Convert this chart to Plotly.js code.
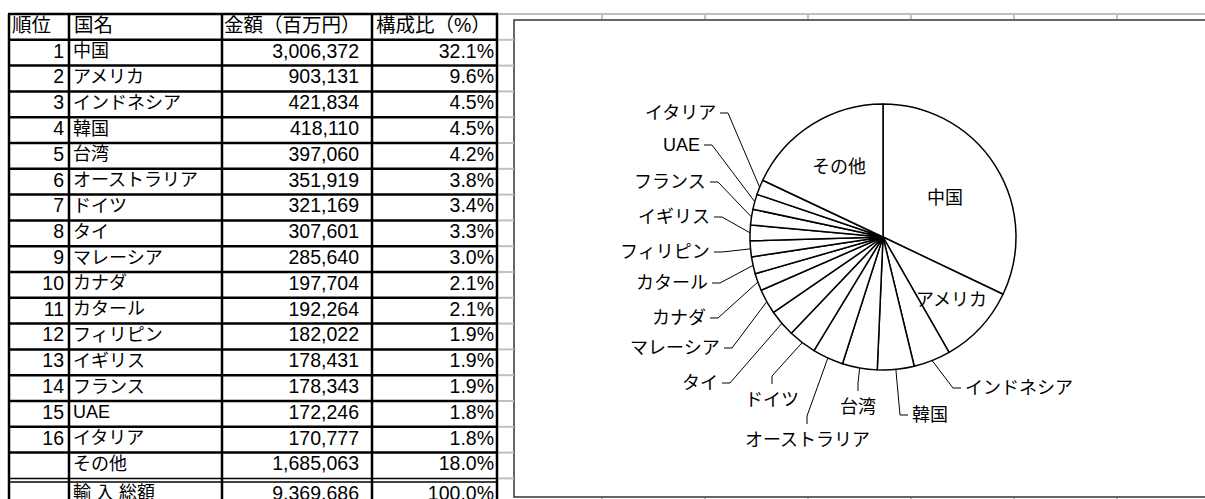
<!DOCTYPE html>
<html>
<head>
<meta charset="utf-8">
<script src="https://cdn.plot.ly/plotly-3.0.1.min.js"></script>
<style>
html,body{margin:0;padding:0;background:#fff;}
#chart{width:1205px;height:499px;}
</style>
</head>
<body>
<div id="chart"></div>
<script>
// ---------------- DATA ----------------
const headers = ['順位', '国名', '金額（百万円）', '構成比（%）'];
const ranks = ['1','2','3','4','5','6','7','8','9','10','11','12','13','14','15','16'];
const countries = ['中国','アメリカ','インドネシア','韓国','台湾','オーストラリア','ドイツ','タイ','マレーシア','カナダ','カタール','フィリピン','イギリス','フランス','UAE','イタリア'];
const amounts = [3006372, 903131, 421834, 418110, 397060, 351919, 321169, 307601, 285640, 197704, 192264, 182022, 178431, 178343, 172246, 170777];
const shares = [32.1, 9.6, 4.5, 4.5, 4.2, 3.8, 3.4, 3.3, 3.0, 2.1, 2.1, 1.9, 1.9, 1.9, 1.8, 1.8];
const otherLabel = 'その他';
const otherAmount = 1685063;
const otherShare = 18.0;
const totalLabel = '輸 入 総額';
const totalAmount = 9369686;
const totalShare = 100.0;

// ---------------- LAYOUT CONSTANTS ----------------
const W = 1205, H = 499;
const colB = [9, 69, 222, 372, 497];          // table column borders (px)
const rowTop = 14, rowPitch = 25.8;           // table rows
const r0 = rowTop + rowPitch / 2;             // px of row index 0
const yRange = [(H - r0) / rowPitch, (0 - r0) / rowPitch];
const totalShift = 0.14;                      // double line pushes last row down
const pie = {cx: 883, cy: 237, R: 133};
const frame = {x0: 514, y0: 20, x1: 1215, y1: 497};
const sheetCols = [602, 705, 808, 911, 1014, 1117];
const fontMix = 'Liberation Sans, Arial, Noto Sans CJK JP, sans-serif';
const fontNum = 'Liberation Sans, Arial, sans-serif';

// pie label placement (px): side = where the leader attaches
const outsideLabels = {
  'インドネシア': {side: 'l', x: 963, y: 388},
  '韓国':        {side: 'l', x: 910, y: 415},
  '台湾':        {side: 't', x: 858, y: 407},
  'オーストラリア': {side: 't', x: 807, y: 440},
  'ドイツ':      {side: 't', x: 772, y: 400},
  'タイ':        {side: 'r', x: 720, y: 383},
  'マレーシア':   {side: 'r', x: 722, y: 348},
  'カナダ':      {side: 'r', x: 708, y: 318},
  'カタール':    {side: 'r', x: 710, y: 283},
  'フィリピン':   {side: 'r', x: 712, y: 252},
  'イギリス':    {side: 'r', x: 712, y: 217},
  'フランス':    {side: 'r', x: 708, y: 182},
  'UAE':         {side: 'r', x: 702, y: 145},
  'イタリア':    {side: 'r', x: 718, y: 113}
};
const insideLabels = {'中国': 0.55, 'アメリカ': 0.70, 'その他': 0.62};

// ---------------- HELPERS ----------------
const fmt = v => v.toLocaleString('en-US');
const pct = v => v.toFixed(1) + '%';
const px2py = y => 1 - y / H;   // px y -> paper y
const px2ry = y => (y - r0) / rowPitch; // px y -> row index

// ---------------- TABLE TRACES ----------------
const nameRows = countries.map((_, i) => i + 1);
const otherRow = countries.length + 1;
const totalRow = countries.length + 2 + totalShift;

const allNames = countries.concat([otherLabel, totalLabel]);
const allAmounts = amounts.concat([otherAmount, totalAmount]).map(fmt);
const allShares = shares.concat([otherShare, totalShare]).map(pct);
const allRows = nameRows.concat([otherRow, totalRow]);

const txt = (x, y, text, pos, family, size) => ({
  type: 'scatter', mode: 'text', x: x, y: y, text: text, textposition: pos,
  textfont: {family: family, size: size, color: '#000'},
  hoverinfo: 'skip', showlegend: false, cliponaxis: true, xaxis: 'x', yaxis: 'y'
});

const traces = [];
traces.push(txt([colB[0] + 3, colB[1] + 5, colB[2] + 2, colB[3] + 4], headers.map(() => 0), headers, 'middle right', fontMix, 19.5));
traces.push(txt(ranks.map(() => colB[1] - 5), nameRows, ranks, 'middle left', fontNum, 19.5));
traces.push(txt(allNames.map(() => colB[1] + 4), allRows, allNames, 'middle right', fontMix, 18));
traces.push(txt(allAmounts.map(() => colB[3] - 13), allRows, allAmounts, 'middle left', fontNum, 19.5));
traces.push(txt(allShares.map(() => colB[4] - 3), allRows, allShares, 'middle left', fontNum, 19.5));

// ---------------- PIE ----------------
const pieLabels = countries.concat([otherLabel]);
const pieValues = amounts.concat([otherAmount]);
traces.push({
  type: 'pie', labels: pieLabels, values: pieValues, sort: false,
  direction: 'clockwise', rotation: 0, textinfo: 'none', hoverinfo: 'skip',
  showlegend: false,
  marker: {colors: pieLabels.map(() => '#ffffff'), line: {color: '#000', width: 1.5}},
  domain: {x: [(pie.cx - pie.R) / W, (pie.cx + pie.R) / W],
           y: [px2py(pie.cy + pie.R), px2py(pie.cy - pie.R)]}
});

// slice mid-angles (deg, clockwise from 12 o'clock)
const sum = pieValues.reduce((a, b) => a + b, 0);
let cum = 0;
const midAngles = pieValues.map(v => { const a = (cum + v / 2) / sum * 360; cum += v; return a; });
const rimPoint = (deg, k) => {
  const t = deg * Math.PI / 180;
  return [pie.cx + k * pie.R * Math.sin(t), pie.cy - k * pie.R * Math.cos(t)];
};

// ---------------- SHAPES ----------------
const shapes = [];
const gray = '#c0c0c0';
// chart frame
shapes.push({type: 'rect', xref: 'x', yref: 'paper', x0: frame.x0, x1: frame.x1,
  y0: px2py(frame.y1), y1: px2py(frame.y0), line: {color: '#333', width: 1.5}, fillcolor: '#fff', layer: 'below'});
// sheet gridlines
shapes.push({type: 'line', xref: 'x', yref: 'paper', x0: colB[4], x1: W + 5,
  y0: px2py(rowTop), y1: px2py(rowTop), line: {color: gray, width: 2}, layer: 'below'});
sheetCols.forEach(x => {
  shapes.push({type: 'line', xref: 'x', yref: 'paper', x0: x, x1: x, y0: px2py(rowTop), y1: px2py(frame.y0 - 1), line: {color: gray, width: 2}, layer: 'below'});
  shapes.push({type: 'line', xref: 'x', yref: 'paper', x0: x, x1: x, y0: px2py(frame.y1 + 1), y1: 0, line: {color: gray, width: 2}, layer: 'below'});
});
for (let b = -0.5; b < yRange[0]; b += 1) {
  shapes.push({type: 'line', xref: 'x', yref: 'y', x0: colB[4], x1: frame.x0, y0: b, y1: b, line: {color: gray, width: 2}, layer: 'below'});
}
// table lines
for (let b = -0.5; b <= countries.length + 1.5; b += 1) {
  if (b === countries.length + 1.5) {
    shapes.push({type: 'line', xref: 'x', yref: 'y', x0: colB[0], x1: colB[4], y0: b, y1: b, line: {color: '#000', width: 1.5}});
    shapes.push({type: 'line', xref: 'x', yref: 'y', x0: colB[0], x1: colB[4], y0: b + totalShift, y1: b + totalShift, line: {color: '#000', width: 1.5}});
  } else {
    shapes.push({type: 'line', xref: 'x', yref: 'y', x0: colB[0] - 1, x1: colB[4] + 1, y0: b, y1: b, line: {color: '#000', width: 2.5}});
  }
}
colB.forEach(x => {
  shapes.push({type: 'line', xref: 'x', yref: 'y', x0: x, x1: x, y0: -0.5, y1: yRange[0] + 1, line: {color: '#000', width: 2.5}});
});

// ---------------- PIE LABELS + LEADERS ----------------
const annotations = [];
const labFont = {family: fontMix, size: 18, color: '#000'};
pieLabels.forEach((name, i) => {
  if (insideLabels[name] !== undefined) {
    const p = rimPoint(midAngles[i], insideLabels[name]);
    annotations.push({xref: 'x', yref: 'paper', x: p[0], y: px2py(p[1]), text: name,
      showarrow: false, xanchor: 'center', yanchor: 'middle', font: labFont});
    return;
  }
  const L = outsideLabels[name];
  if (!L) return;
  const rim = rimPoint(midAngles[i], 1);
  let attach, elbow, xanchor;
  if (L.side === 'r') { attach = [L.x + 2, L.y]; elbow = [L.x + 10, L.y]; xanchor = 'right'; }
  else if (L.side === 'l') { attach = [L.x - 2, L.y]; elbow = [L.x - 10, L.y]; xanchor = 'left'; }
  else { attach = [L.x, L.y - 16]; elbow = [L.x, L.y - 24]; xanchor = 'center'; }
  annotations.push({xref: 'x', yref: 'paper', x: L.x, y: px2py(L.y), text: name,
    showarrow: false, xanchor: xanchor, yanchor: 'middle', font: labFont});
  const ry = px2ry;
  shapes.push({type: 'path', xref: 'x', yref: 'y',
    path: 'M' + attach[0] + ',' + ry(attach[1]) + ' L' + elbow[0] + ',' + ry(elbow[1]) + ' L' + rim[0] + ',' + ry(rim[1]),
    line: {color: '#000', width: 1}});
});

const layout = {
  width: W, height: H,
  margin: {l: 0, r: 0, t: 0, b: 0, pad: 0},
  paper_bgcolor: '#fff', plot_bgcolor: 'rgba(0,0,0,0)',
  xaxis: {range: [0, W], visible: false, fixedrange: true},
  yaxis: {range: yRange, visible: false, fixedrange: true},
  shapes: shapes, annotations: annotations, showlegend: false
};

Plotly.newPlot('chart', traces, layout, {displayModeBar: false, staticPlot: true});
</script>
</body>
</html>
